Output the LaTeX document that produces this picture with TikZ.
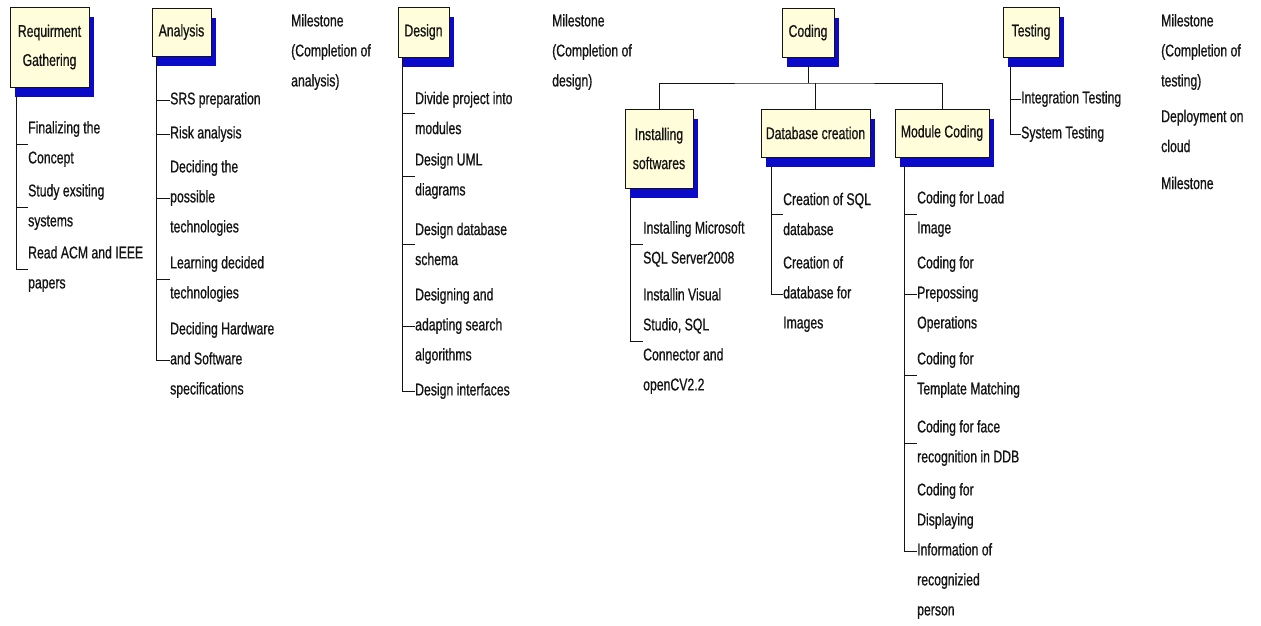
\documentclass[tikz,border=0pt]{standalone}
\usepackage{fontspec}
\setmainfont{Liberation Sans}[FakeStretch=0.72, FakeBold=0.7]
\usetikzlibrary{shadows,backgrounds}
\definecolor{boxfill}{RGB}{255,253,218}
\definecolor{shadowblue}{RGB}{10,10,200}
\definecolor{ink}{RGB}{20,20,20}
\begin{document}
\begin{tikzpicture}[x=1pt,y=-1pt,
  phase/.style={draw=ink, line width=0.9pt, fill=boxfill, inner sep=0pt, align=center,
    font=\fontsize{17}{29}\selectfont, text=ink,
    general shadow={fill=shadowblue, shadow xshift=5pt, shadow yshift=-10pt}},
  task/.style={anchor=west, inner sep=0pt, align=left, font=\fontsize{17}{30}\selectfont, text=ink},
  link/.style={draw=ink, line width=0.9pt}]
\useasboundingbox (0,0) rectangle (1261,626);

% phase boxes
\node[phase, minimum width=79pt, minimum height=80pt] (req) at (49.5,47) {Requirment\\Gathering};
\node[phase, minimum width=59pt, minimum height=48pt] (ana) at (181.5,32) {Analysis};
\node[phase, minimum width=51pt, minimum height=50pt] (des) at (423.5,32) {Design};
\node[phase, minimum width=52pt, minimum height=49pt] (cod) at (808,32.5) {Coding};
\node[phase, minimum width=56pt, minimum height=50pt] (tst) at (1031,32) {Testing};
\node[phase, minimum width=68pt, minimum height=79pt] (ins) at (659,148.5) {Installing\\softwares};
\node[phase, minimum width=109pt, minimum height=48pt] (dbc) at (815.5,133) {Database creation};
\node[phase, minimum width=94pt, minimum height=48pt] (mod) at (942,133) {Module Coding};

% requirement gathering tasks
\node[task] (r1) at (28,144) {Finalizing the\\Concept};
\node[task] (r2) at (28,207) {Study exsiting\\systems};
\node[task] (r3) at (28,269) {Read ACM and IEEE\\papers};

% analysis tasks
\node[task] (a1) at (170,100) {SRS preparation};
\node[task] (a2) at (170,134) {Risk analysis};
\node[task] (a3) at (170,198) {Deciding the\\possible\\technologies};
\node[task] (a4) at (170,279) {Learning decided\\technologies};
\node[task] (a5) at (170,360) {Deciding Hardware\\and Software\\specifications};

% design tasks
\node[task] (d1) at (415,113) {Divide project into\\modules};
\node[task] (d2) at (415,176) {Design UML\\diagrams};
\node[task] (d3) at (415,244) {Design database\\schema};
\node[task] (d4) at (415,326) {Designing and\\adapting search\\algorithms};
\node[task] (d5) at (415,391) {Design interfaces};

% coding sub-tasks
\node[task] (i1) at (643,244) {Installing Microsoft\\SQL Server2008};
\node[task] (i2) at (643,341) {Installin Visual\\Studio, SQL\\Connector and\\openCV2.2};
\node[task] (b1) at (783,214) {Creation of SQL\\database};
\node[task] (b2) at (783,294) {Creation of\\database for\\Images};
\node[task] (c1) at (917,214) {Coding for Load\\Image};
\node[task] (c2) at (917,294) {Coding for\\Prepossing\\Operations};
\node[task] (c3) at (917,375) {Coding for\\Template Matching};
\node[task] (c4) at (917,443) {Coding for face\\recognition in DDB};
\node[task] (c5) at (917,551) {Coding for\\Displaying\\Information of\\recognizied\\person};

% testing tasks
\node[task] (t1) at (1021,99) {Integration Testing};
\node[task] (t2) at (1021,134) {System Testing};

% milestones
\node[task] (m1) at (291,52) {Milestone\\(Completion of\\analysis)};
\node[task] (m2) at (552,52) {Milestone\\(Completion of\\design)};
\node[task] (m3) at (1161,52) {Milestone\\(Completion of\\testing)};
\node[task] (m4) at (1161,131) {Deployment on\\cloud};
\node[task] (m5) at (1161,183) {Milestone};

% tree connectors, kept behind boxes and shadows
\begin{scope}[on background layer]
  \fill[white] (0,0) rectangle (1261,626);
  \coordinate (rqx) at ([xshift=7pt]req.south west);
  \foreach \t in {r1,r2,r3} \draw[link] (rqx) |- (\t.west);
  \coordinate (anx) at ([xshift=5pt]ana.south west);
  \foreach \t in {a1,a2,a3,a4,a5} \draw[link] (anx) |- (\t.west);
  \coordinate (dsx) at ([xshift=5pt]des.south west);
  \foreach \t in {d1,d2,d3,d4,d5} \draw[link] (dsx) |- (\t.west);
  \coordinate (inx) at ([xshift=6pt]ins.south west);
  \foreach \t in {i1,i2} \draw[link] (inx) |- (\t.west);
  \coordinate (dbx) at ([xshift=11pt]dbc.south west);
  \foreach \t in {b1,b2} \draw[link] (dbx) |- (\t.west);
  \coordinate (mdx) at ([xshift=10pt]mod.south west);
  \foreach \t in {c1,c2,c3,c4,c5} \draw[link] (mdx) |- (\t.west);
  \coordinate (tsx) at ([xshift=8pt]tst.south west);
  \foreach \t in {t1,t2} \draw[link] (tsx) |- (\t.west);
  % coding breakdown
  \coordinate (bar) at (808,83);
  \draw[link] (cod.south) -- (bar);
  \draw[link] (ins.north) |- (bar) -| (mod.north);
  \draw[link] (dbc.north) -- (dbc.north |- bar);
\end{scope}
\end{tikzpicture}
\end{document}
